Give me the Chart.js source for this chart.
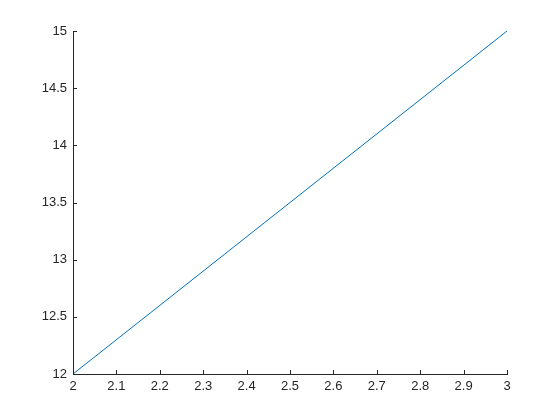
<!DOCTYPE html>
<html>
<head>
<meta charset="utf-8">
<script src="https://cdn.jsdelivr.net/npm/chart.js@4"></script>
<style>
  html, body { margin: 0; padding: 0; background: #fff; }
  #wrap { width: 560px; height: 420px; }
</style>
</head>
<body>
<div id="wrap"><canvas id="chart" width="560" height="420"></canvas></div>
<script>
const xValues = [2, 3];
const yValues = [12, 15];
const xTicks = [2, 2.1, 2.2, 2.3, 2.4, 2.5, 2.6, 2.7, 2.8, 2.9, 3];
const xTickLabels = ['2', '2.1', '2.2', '2.3', '2.4', '2.5', '2.6', '2.7', '2.8', '2.9', '3'];
const yTicks = [12, 12.5, 13, 13.5, 14, 14.5, 15];
const yTickLabels = ['12', '12.5', '13', '13.5', '14', '14.5', '15'];

const axisColor = '#262626';

// MATLAB-style ticks pointing into the plot area
const innerTicks = {
  id: 'innerTicks',
  afterDraw(chart) {
    const { ctx, chartArea, scales } = chart;
    const len = 4;
    ctx.save();
    ctx.strokeStyle = axisColor;
    ctx.lineWidth = 1;
    ctx.beginPath();
    xTicks.forEach(v => {
      const px = Math.round(scales.x.getPixelForValue(v)) + 0.5;
      ctx.moveTo(px, chartArea.bottom);
      ctx.lineTo(px, chartArea.bottom - len);
    });
    yTicks.forEach(v => {
      const py = Math.round(scales.y.getPixelForValue(v)) + 0.5;
      ctx.moveTo(chartArea.left, py);
      ctx.lineTo(chartArea.left + len, py);
    });
    ctx.stroke();
    ctx.restore();
  }
};

new Chart(document.getElementById('chart'), {
  type: 'line',
  data: {
    datasets: [{
      data: xValues.map((x, i) => ({ x, y: yValues[i] })),
      borderColor: '#0072BD',
      borderWidth: 1,
      pointRadius: 0,
      fill: false,
      tension: 0
    }]
  },
  options: {
    responsive: false,
    animation: false,
    layout: { padding: { top: 31, right: 53, left: 0, bottom: 0 } },
    plugins: { legend: { display: false }, tooltip: { enabled: false } },
    scales: {
      x: {
        type: 'linear',
        min: 2,
        max: 3,
        afterBuildTicks: (s) => { s.ticks = xTicks.map(v => ({ value: v })); },
        afterFit: (s) => { s.height = 46; },
        grid: { display: true, drawOnChartArea: false, drawTicks: false },
        border: { display: true, color: axisColor, width: 1 },
        ticks: {
          color: axisColor,
          padding: 5,
          maxRotation: 0,
          autoSkip: false,
          font: { family: 'Liberation Sans, Arial, sans-serif', size: 13 },
          callback: (v) => xTickLabels[xTicks.indexOf(v)] ?? ''
        }
      },
      y: {
        type: 'linear',
        min: 12,
        max: 15,
        afterBuildTicks: (s) => { s.ticks = yTicks.map(v => ({ value: v })); },
        afterFit: (s) => { s.width = 73; },
        grid: { display: true, drawOnChartArea: false, drawTicks: false },
        border: { display: true, color: axisColor, width: 1 },
        ticks: {
          color: axisColor,
          padding: 6,
          autoSkip: false,
          font: { family: 'Liberation Sans, Arial, sans-serif', size: 13 },
          callback: (v) => yTickLabels[yTicks.indexOf(v)] ?? ''
        }
      }
    }
  },
  plugins: [innerTicks]
});
</script>
</body>
</html>
